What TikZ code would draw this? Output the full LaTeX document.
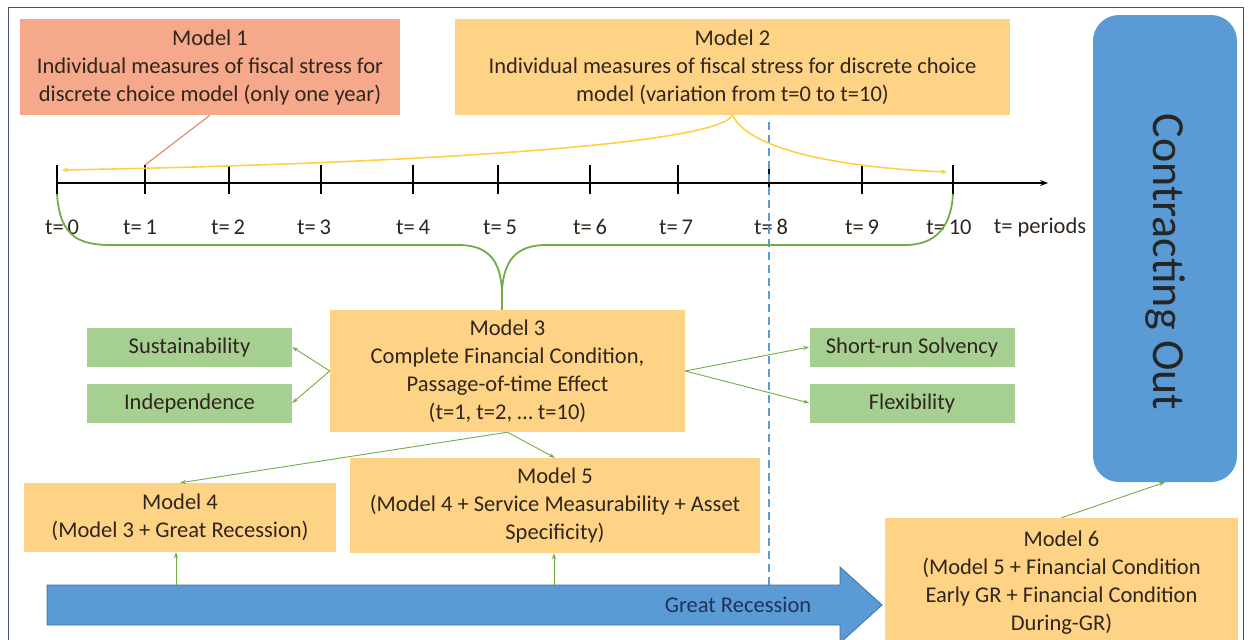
\documentclass[tikz,border=0pt]{standalone}
\usepackage{fontspec}
\setmainfont{Carlito}
\usetikzlibrary{arrows.meta}
\definecolor{salmon}{RGB}{245,168,138}
\definecolor{orangebox}{RGB}{255,211,133}
\definecolor{greenbox}{RGB}{166,207,146}
\definecolor{bluebox}{RGB}{91,155,213}
\definecolor{blueedge}{RGB}{65,113,156}
\definecolor{framec}{RGB}{68,84,106}
\definecolor{yel}{RGB}{255,208,70}
\definecolor{grn}{RGB}{112,173,71}
\definecolor{salmonline}{RGB}{222,140,110}
\definecolor{txt}{RGB}{48,38,30}
\definecolor{navy}{RGB}{30,50,90}
\definecolor{dashblue}{RGB}{91,155,213}
\begin{document}
\begin{tikzpicture}[x=1pt,y=-1pt,
  every node/.style={font=\fontsize{22.5}{28}\selectfont, text=txt},
  box/.style={rectangle, inner sep=0pt, align=center, draw=none},
  mbox/.style={box, fill=orangebox},
  gbox/.style={box, fill=greenbox, minimum width=205pt, minimum height=39pt},
  garrow/.style={draw=grn, line width=0.9pt, -{Stealth[length=6pt,width=4pt]}},
  yarrow/.style={draw=yel, line width=1.6pt, -{Stealth[length=6pt,width=5pt]}},
  tick/.style={draw=black, line width=1.2pt},
  tlabel/.style={font=\fontsize{22.5}{28}\selectfont}
]
\useasboundingbox (0,0) rectangle (1251,640);
\clip (0,0) rectangle (1251,640);
% frame
\draw[framec, line width=1pt] (8,7) rectangle (1243,660);

% boxes
\node[box, fill=salmon, minimum width=380pt, minimum height=96pt] (m1) at (210,67)
  {Model 1\\Individual measures of fiscal stress for\\discrete choice model (only one year)};
\node[mbox, minimum width=555pt, minimum height=96pt] (m2) at (732.5,67)
  {Model 2\\Individual measures of fiscal stress for discrete choice\\model (variation from t=0 to t=10)};
\node[box, fill=bluebox, rounded corners=26pt, minimum width=144pt, minimum height=467pt] (co) at (1165,248.5) {};
\node[rotate=-90, font=\fontsize{46}{50}\selectfont, text=black!85] (cot) at (1165,262) {Contracting Out};

% timeline
\coordinate (ax0) at (57,183);
\coordinate (ax1) at (1048,183);
\draw[black, line width=1.2pt, -{Stealth[length=8pt,width=6pt]}] (ax0) -- (ax1);
\foreach \x/\lx/\n in {57/62/0,145/140/1,229/228/2,321/314/3,413/413/4,498/500/5,590/590/6,678/676/7,769/771/8,862/862/9,953/949/10}{
  \draw[tick] (\x,165) coordinate (tk\n) -- (\x,194) coordinate (tb\n);
  \node[tlabel] (tl\n) at (\lx,227) {t=\,\n};
}
\node[tlabel] (tper) at (1040,227) {t= periods};

% dashed line
\draw[dashblue, line width=1.2pt, dash pattern=on 8pt off 5pt] (769,122) -- (769,585);

% Model 1 line
\draw[salmonline, line width=1.2pt] (m1.south) -- (tk1);

% Model 2 yellow arrows
\coordinate (y0) at (62,170);
\coordinate (y10) at (947,172);
\draw[yarrow] (m2.south) .. controls (715,148) and (350,165) .. (y0);
\draw[yarrow] (m2.south) .. controls (750,152) and (850,168) .. (y10);

% Model 3
\node[mbox, minimum width=355pt, minimum height=122pt] (m3) at (507.5,371)
  {Model 3\\Complete Financial Condition,\\Passage-of-time Effect\\(t=1, t=2, \dots\ t=10)};
\coordinate (brtip) at (502,290);
\draw[grn, line width=1.8pt] (tb0) .. controls (60,238) and (80,245) .. (112,245) -- (458,245)
  .. controls (490,245) and (500,262) .. (brtip);
\draw[grn, line width=1.8pt] (brtip) .. controls (504,262) and (515,245) .. (546,245) -- (905,245)
  .. controls (935,245) and (951,228) .. (tb10);
\draw[grn, line width=1.8pt] (brtip) -- (brtip |- m3.north);

% green boxes
\node[gbox] (sus) at (189.5,347) {Sustainability};
\node[gbox] (ind) at (189.5,403) {Independence};
\node[gbox] (srs) at (912,347) {Short-run Solvency};
\node[gbox] (flx) at (912,403) {Flexibility};
\draw[garrow] (m3.west) -- (sus.east);
\draw[garrow] (m3.west) -- (ind.east);
\draw[garrow] (m3.east) -- (srs.west);
\draw[garrow] (m3.east) -- (flx.west);

% Models 4,5,6
\node[mbox, minimum width=312pt, minimum height=69pt] (m4) at (180,517.5)
  {Model 4\\(Model 3 + Great Recession)};
\node[mbox, minimum width=410pt, minimum height=95pt] (m5) at (555,505.5)
  {Model 5\\(Model 4 + Service Measurability + Asset\\Specificity)};
\node[mbox, minimum width=353pt, minimum height=130pt] (m6) at (1061.5,583)
  {Model 6\\(Model 5 + Financial Condition\\Early GR + Financial Condition\\During-GR)};
\draw[garrow] (m3.south) -- (m4.north);
\draw[garrow] (m3.south) -- (m5.north);
\draw[garrow] (m6.north) -- (co.south);

% Great Recession arrow
\filldraw[fill=bluebox, draw=blueedge, line width=0.8pt]
  (47,585) -- (840,585) -- (840,567) -- (882,605) -- (840,643) -- (840,625) -- (47,625) -- cycle;
\node[text=navy] (grt) at (738,605) {Great Recession};
\coordinate (g4) at (176,585);
\coordinate (g5) at (554,585);
\draw[garrow] (g4) -- (g4 |- m4.south);
\draw[garrow] (g5) -- (g5 |- m5.south);
\end{tikzpicture}
\end{document}
